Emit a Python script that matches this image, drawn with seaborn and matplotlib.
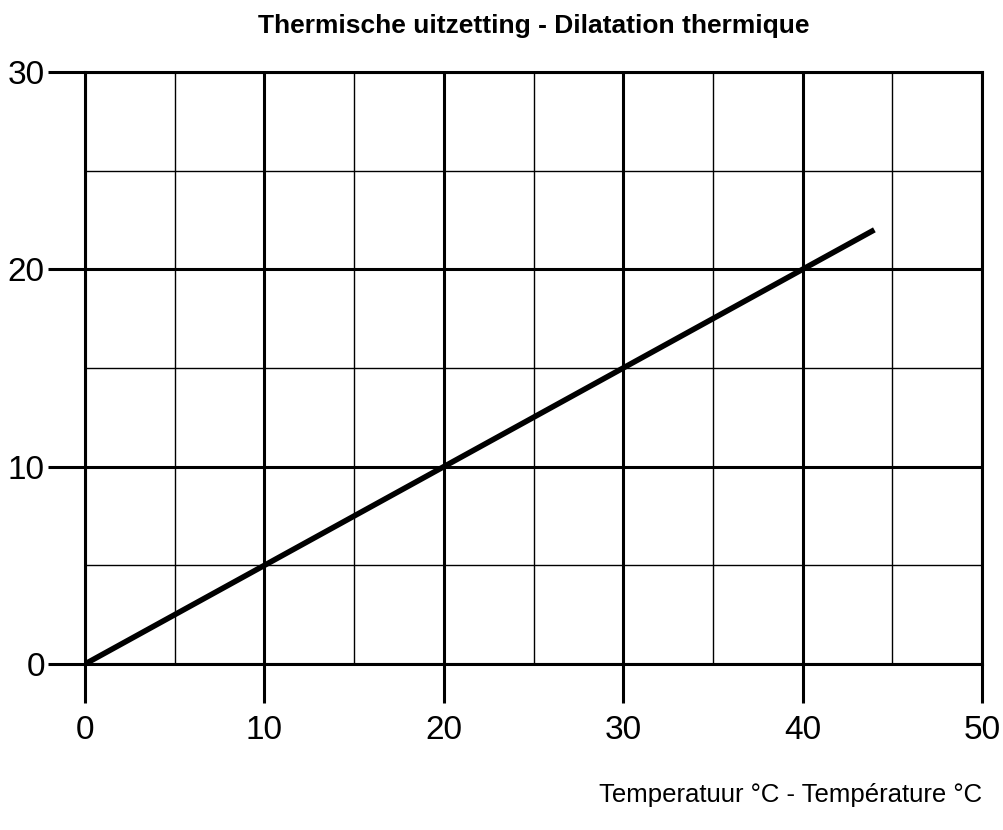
import matplotlib
matplotlib.use("Agg")
import matplotlib.pyplot as plt
import seaborn as sns
import pandas as pd
from matplotlib.ticker import MultipleLocator

# data
temperature = [0, 44]
expansion = [0, 22]
x_ticks = [0, 10, 20, 30, 40, 50]
y_ticks = [0, 10, 20, 30]

sns.set_style("white")
plt.rcParams['font.family'] = ['Liberation Sans', 'DejaVu Sans']
plt.rcParams['text.color'] = 'black'

df = pd.DataFrame({"temp": temperature, "exp": expansion})

fig = plt.figure(figsize=(10.04, 8.30), dpi=100)
ax = fig.add_axes([0.0847, 0.2, 0.8934, 0.7133])

sns.lineplot(data=df, x="temp", y="exp", color="black", linewidth=4.0, ax=ax,
             solid_capstyle="butt", zorder=5)

ax.set_xlim(0, 50)
ax.set_ylim(0, 30)
ax.set_xticks(x_ticks)
ax.set_yticks(y_ticks)
ax.xaxis.set_minor_locator(MultipleLocator(5))
ax.yaxis.set_minor_locator(MultipleLocator(5))

ax.grid(which="major", color="black", linewidth=2.2)
ax.grid(which="minor", color="black", linewidth=1.0)
ax.set_axisbelow(True)

for s in ax.spines.values():
    s.set_visible(True)
    s.set_color("black")
    s.set_linewidth(2.2)

ax.tick_params(axis="both", which="major", direction="out", width=2.2,
               color="black", labelsize=24, labelcolor="black",
               bottom=True, left=True)
ax.tick_params(axis="y", which="major", length=27, pad=2)
ax.tick_params(axis="x", which="major", length=28, pad=9)
ax.tick_params(which="minor", length=0)

ax.set_title("Thermische uitzetting - Dilatation thermique", fontsize=19,
             fontweight="bold", pad=28, color="black")
ax.set_xlabel("Temperatuur °C - Température °C", fontsize=18.5, loc="right",
              labelpad=26, color="black")
ax.set_ylabel("")

fig.savefig("out.png", dpi=100)
